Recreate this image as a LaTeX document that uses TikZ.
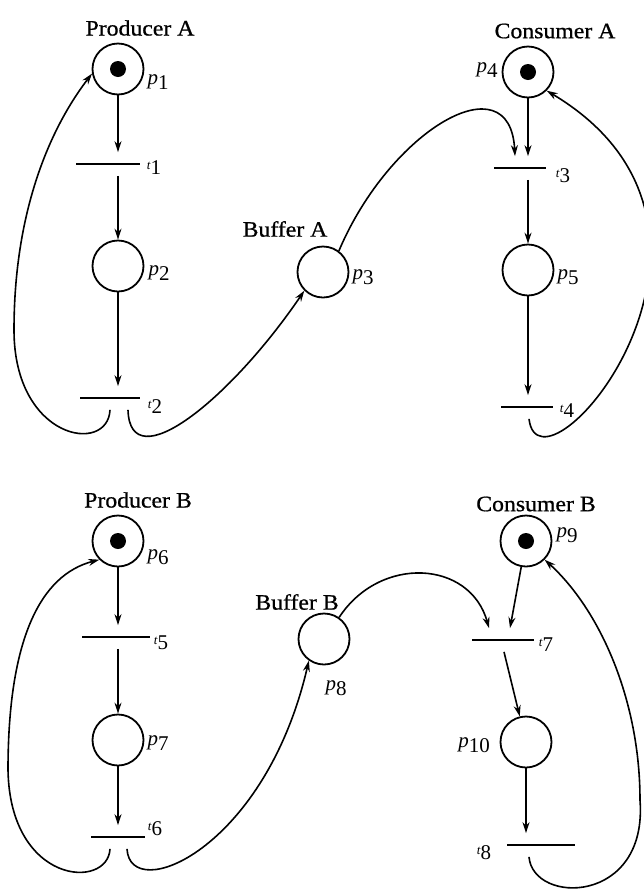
\documentclass[tikz,border=0pt]{standalone}
\usepackage{fontspec}
\setmainfont{Liberation Serif}
\newfontfamily\namefont[FakeStretch=1.08, FakeBold=0.8]{Liberation Serif}
\usetikzlibrary{arrows.meta}
\newcommand\plab[1]{\textit{p}\raisebox{-5pt}{#1}}
\newcommand\tlab[1]{{\fontsize{13}{13}\selectfont\textit{t}}\raisebox{-5pt}{#1}}

\begin{document}
\begin{tikzpicture}[x=1pt, y=-1pt,
    place/.style={circle, draw, line width=1.8pt, minimum size=51pt, inner sep=0pt},
    marked/.style={place, path picture={\fill (path picture bounding box.center) circle (8pt);}},
    trans/.style={fill=black, minimum height=1.8pt, inner sep=0pt, outer xsep=0pt, outer ysep=11pt},
    arc/.style={-{Stealth[length=11pt,width=7pt]}, line width=1.6pt},
    title/.style={font=\namefont\fontsize{22}{24}\selectfont},
    lab/.style={font=\fontsize{21}{24}\selectfont, inner sep=0pt}]
    \useasboundingbox (0,0) rectangle (644,895);

    % producer / buffer / consumer A
    \node[marked] (p1) at (118,69) {};
    \node[trans, minimum width=64pt] (t1) at (108,164) {};
    \node[place] (p2) at (118,266) {};
    \node[trans, minimum width=60pt] (t2) at (110,398) {};
    \node[place] (p3) at (323,272) {};
    \node[marked] (p4) at (528,72) {};
    \node[trans, minimum width=52pt] (t3) at (520,168) {};
    \node[place] (p5) at (528,270) {};
    \node[trans, minimum width=52pt] (t4) at (527,407) {};

    % producer / buffer / consumer B
    \node[marked] (p6) at (118,541) {};
    \node[trans, minimum width=68pt] (t5) at (116,637) {};
    \node[place] (p7) at (118,740) {};
    \node[trans, minimum width=54pt] (t6) at (118,837) {};
    \node[place] (p8) at (324,639) {};
    \node[marked] (p9) at (526,541) {};
    \node[trans, minimum width=62pt] (t7) at (503,640) {};
    \node[place] (p10) at (526,742) {};
    \node[trans, minimum width=68pt] (t8) at (541,845) {};

    % names
    \node[title] (prodA) at (140,28) {Producer A};
    \node[title] (bufA) at (285,229) {Buffer A};
    \node[title] (consA) at (555,31) {Consumer A};
    \node[title] (prodB) at (138,500) {Producer B};
    \node[title] (bufB) at (297,602) {Buffer B};
    \node[title] (consB) at (536,504) {Consumer B};

    % place and transition labels
    \node[lab] (lp1) at (158,82) {\plab{1}};
    \node[lab] (lp2) at (159,273) {\plab{2}};
    \node[lab] (lp3) at (363,277) {\plab{3}};
    \node[lab] (lp4) at (487,70) {\plab{4}};
    \node[lab] (lp5) at (568,277) {\plab{5}};
    \node[lab] (lp6) at (158,557) {\plab{6}};
    \node[lab] (lp7) at (158,743) {\plab{7}};
    \node[lab] (lp8) at (336,688) {\plab{8}};
    \node[lab] (lp9) at (567,535) {\plab{9}};
    \node[lab] (lp10) at (474,745) {\plab{10}};
    \node[lab] (lt1) at (154,168) {\tlab{1}};
    \node[lab] (lt2) at (155,407) {\tlab{2}};
    \node[lab] (lt3) at (563,176) {\tlab{3}};
    \node[lab] (lt4) at (567,411) {\tlab{4}};
    \node[lab] (lt5) at (161,643) {\tlab{5}};
    \node[lab] (lt6) at (155,829) {\tlab{6}};
    \node[lab] (lt7) at (546,645) {\tlab{7}};
    \node[lab] (lt8) at (484,853) {\tlab{8}};

    \draw[arc] (p1) -- (p1 |- t1.north);
    \draw[arc] (t1.south -| p2) -- (p2);
    \draw[arc] (p2) -- (p2 |- t2.north);
    \draw[arc] (t2.south) .. controls (108,455) and (14,440) .. (14,330) .. controls (14,220) and (45,135) .. (p1.190);
    \draw[arc] ([xshift=18pt]t2.south) .. controls (130,480) and (230,400) .. (p3.225);
    \draw[arc] (p3.53) .. controls (390,130) and (510,60) .. ([xshift=-5pt]t3.north);
    \draw[arc] (p4) -- (p4 |- t3.north);
    \draw[arc] (t3.south -| p5) -- (p5);
    \draw[arc] (p5) -- (p5 |- t4.north);
    \draw[arc] ([xshift=2pt]t4.south) .. controls (540,510) and (780,230) .. (p4.-45);

    \draw[arc] (p6) -- (p6 |- t5.north);
    \draw[arc] (t5.south -| p7) -- (p7);
    \draw[arc] (p7) -- (p7 |- t6.north);
    \draw[arc] ([xshift=-8pt]t6.south) .. controls (108,890) and (10,885) .. (8,770) .. controls (8,640) and (40,575) .. (p6.225);
    \draw[arc] ([xshift=9pt]t6.south) .. controls (130,905) and (265,850) .. (p8.235);
    \draw[arc] (p8.55) .. controls (380,555) and (470,560) .. ([xshift=-14pt]t7.north);
    \draw[arc] (p9) -- ([xshift=7pt]t7.north);
    \draw[arc] ([xshift=1pt]t7.south) -- (p10);
    \draw[arc] (p10) -- (p10 |- t8.north);
    \draw[arc] ([xshift=-12pt]t8.south) .. controls (533,905) and (648,905) .. (640,800) .. controls (640,700) and (600,610) .. (p9.-45);
\end{tikzpicture}
\end{document}
